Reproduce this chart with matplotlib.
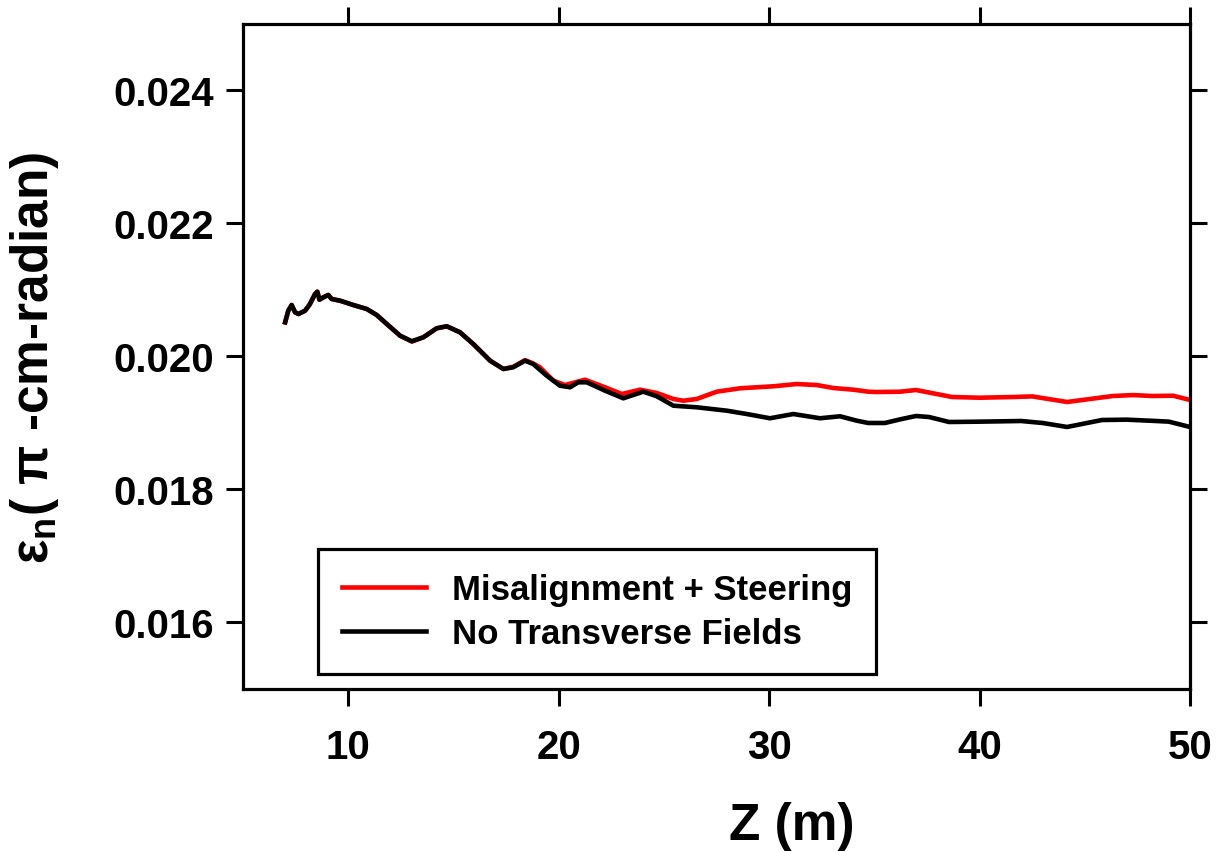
"""Normalized emittance vs Z: misalignment + steering vs no transverse fields."""
import matplotlib

matplotlib.use("Agg")
import matplotlib.pyplot as plt

plt.rcParams["font.family"] = ["Liberation Sans", "DejaVu Sans"]
plt.rcParams["mathtext.fontset"] = "custom"
plt.rcParams["mathtext.rm"] = "Liberation Sans"
plt.rcParams["mathtext.bf"] = "Liberation Sans:bold"

# no transverse fields (black)
z_black = [7.00, 7.15, 7.31, 7.47, 7.63, 7.95, 8.18, 8.42, 8.53, 8.63, 8.82, 9.05,
           9.21, 9.61, 10.24, 10.88, 11.35, 11.83, 12.46, 13.02, 13.57, 14.20, 14.68,
           15.31, 15.94, 16.74, 17.37, 17.84, 18.40, 18.79, 19.43, 20.06, 20.54, 20.93,
           21.33, 22.20, 23.07, 24.02, 24.66, 25.45, 26.56, 27.99, 28.94, 30.04, 31.15,
           32.42, 33.37, 34.16, 34.71, 35.50, 36.30, 36.98, 37.60, 38.55, 40.00, 41.97,
           43.00, 44.16, 45.82, 47.00, 48.39, 49.00, 50.00]
emit_black = [0.020514, 0.020689, 0.020774, 0.020665, 0.020639, 0.020689, 0.020789,
              0.020940, 0.020974, 0.020854, 0.020890, 0.020925, 0.020865, 0.020839,
              0.020774, 0.020714, 0.020624, 0.020489, 0.020313, 0.020229, 0.020289,
              0.020424, 0.020454, 0.020364, 0.020188, 0.019937, 0.019812, 0.019838,
              0.019937, 0.019887, 0.019711, 0.019561, 0.019537, 0.019612, 0.019612,
              0.019486, 0.019371, 0.019471, 0.019402, 0.019260, 0.019236, 0.019185,
              0.019135, 0.019071, 0.019135, 0.019071, 0.019101, 0.019035, 0.019000,
              0.019000, 0.019060, 0.019105, 0.019090, 0.019015, 0.019020, 0.019030,
              0.019000, 0.018940, 0.019045, 0.019050, 0.019030, 0.019020, 0.018940]

# misalignment + steering (red)
z_red = [7.00, 7.15, 7.31, 7.47, 7.63, 7.95, 8.18, 8.42, 8.53, 8.63, 8.82, 9.05,
         9.21, 9.61, 10.24, 10.88, 11.35, 11.83, 12.46, 13.02, 13.57, 14.20, 14.68,
         15.31, 15.94, 16.74, 17.37, 17.84, 18.40, 18.79, 19.11, 19.75, 20.30, 21.25,
         22.20, 23.00, 23.87, 24.66, 25.45, 25.92, 26.56, 27.51, 28.62, 29.41, 30.20,
         31.31, 32.26, 33.05, 34.00, 34.71, 35.08, 36.20, 36.98, 38.69, 40.00, 41.64,
         42.50, 44.16, 46.34, 47.30, 48.19, 49.20, 50.00]
emit_red = [0.020514, 0.020689, 0.020774, 0.020665, 0.020639, 0.020689, 0.020789,
            0.020940, 0.020974, 0.020854, 0.020890, 0.020925, 0.020865, 0.020839,
            0.020774, 0.020714, 0.020624, 0.020489, 0.020313, 0.020225, 0.020289,
            0.020424, 0.020454, 0.020364, 0.020188, 0.019937, 0.019812, 0.019845,
            0.019945, 0.019895, 0.019838, 0.019636, 0.019571, 0.019651, 0.019537,
            0.019436, 0.019501, 0.019451, 0.019361, 0.019335, 0.019361, 0.019471,
            0.019522, 0.019537, 0.019552, 0.019586, 0.019571, 0.019526, 0.019501,
            0.019471, 0.019466, 0.019470, 0.019496, 0.019391, 0.019380, 0.019391,
            0.019400, 0.019316, 0.019406, 0.019420, 0.019406, 0.019410, 0.019346]

x_ticks = [10, 20, 30, 40, 50]
y_ticks = [0.016, 0.018, 0.020, 0.022, 0.024]

fig = plt.figure(figsize=(12.22, 8.53), dpi=100)
ax = fig.add_axes([0.1989, 0.1911, 0.7749, 0.7796])

ax.plot(z_red, emit_red, color="#ff0000", linewidth=3.3, label="Misalignment + Steering",
        solid_joinstyle="round")
ax.plot(z_black, emit_black, color="black", linewidth=3.3, label="No Transverse Fields",
        solid_joinstyle="round")

ax.set_xlim(5, 50)
ax.set_ylim(0.015, 0.025)
ax.set_xticks(x_ticks)
ax.set_yticks(y_ticks)
ax.set_yticklabels([f"{v:.3f}" for v in y_ticks])

for side in ax.spines.values():
    side.set_linewidth(2.3)
ax.tick_params(direction="out", length=12, width=2.2, top=True, right=True,
               labeltop=False, labelright=False, labelsize=29)
ax.tick_params(axis="x", pad=16)
ax.tick_params(axis="y", pad=9)
for lab in ax.get_xticklabels() + ax.get_yticklabels():
    lab.set_fontweight("bold")

ax.set_xlabel("Z (m)", fontsize=37, fontweight="bold")
ax.xaxis.set_label_coords(0.579, -0.168)
ax.set_ylabel(r"ε$_{\mathbf{n}}$( π -cm-radian)", fontsize=37, fontweight="bold")
ax.yaxis.set_label_coords(-0.192, 0.5)

leg = ax.legend(loc="lower left", bbox_to_anchor=(0.079, 0.0226), borderaxespad=0,
                fancybox=False, edgecolor="black", framealpha=1,
                prop={"size": 25, "weight": "bold"}, handlelength=2.4,
                handletextpad=0.75, labelspacing=0.3, borderpad=0.7)
leg.get_frame().set_linewidth(2.3)

fig.savefig("out.png", dpi=100, facecolor="white")
plt.close(fig)
